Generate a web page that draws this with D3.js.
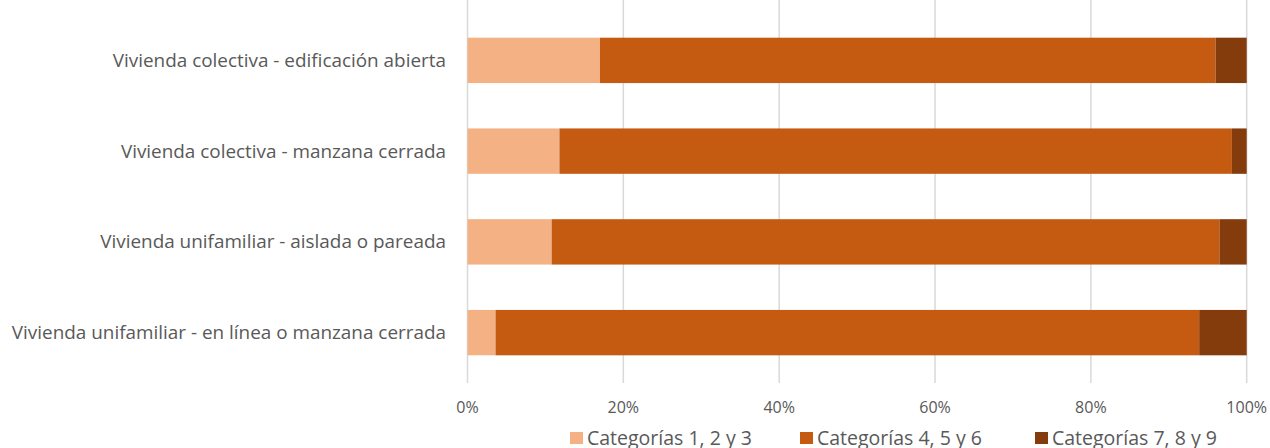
<!DOCTYPE html>
<html><head><meta charset="utf-8">
<script src="https://cdn.jsdelivr.net/npm/d3@7"></script>
<style>body{margin:0;background:#fff}svg{display:block}</style>
</head><body>
<svg id="c" width="1270" height="448"></svg>
<script>
const categories = [
  "Vivienda colectiva - edificación abierta",
  "Vivienda colectiva - manzana cerrada",
  "Vivienda unifamiliar - aislada o pareada",
  "Vivienda unifamiliar - en línea o manzana cerrada"
];
const seriesNames = ["Categorías 1, 2 y 3", "Categorías 4, 5 y 6", "Categorías 7, 8 y 9"];
const cat123 = [17.0, 11.8, 10.8, 3.6];
const cat456 = [79.0, 86.3, 85.7, 90.3];
const cat789 = [4.0, 1.9, 3.5, 6.1];
const tickValues = [0, 20, 40, 60, 80, 100];
const colors = ["#F4B183", "#C55A11", "#843C0C"];

const svg = d3.select("#c");
const x = d3.scaleLinear().domain([0, 100]).range([467.5, 1246.7]);
const y = d3.scaleBand().domain(categories).range([15, 378]).paddingInner(0.5).paddingOuter(0.25);

const rows = categories.map((c, i) => ({cat: c, s0: cat123[i], s1: cat456[i], s2: cat789[i]}));
const stack = d3.stack().keys(["s0", "s1", "s2"])(rows);

// gridlines
svg.append("g").selectAll("line").data(tickValues).join("line")
  .attr("x1", d => x(d)).attr("x2", d => x(d))
  .attr("y1", 0).attr("y2", 383)
  .attr("stroke", "#D9D9D9").attr("stroke-width", 1.5);

// bars
svg.append("g").selectAll("g").data(stack).join("g")
  .attr("fill", (d, i) => colors[i])
  .selectAll("rect").data(d => d).join("rect")
  .attr("x", d => x(d[0])).attr("width", d => x(d[1]) - x(d[0]))
  .attr("y", d => y(d.data.cat)).attr("height", y.bandwidth());

// category labels
svg.append("g").selectAll("text").data(categories).join("text")
  .attr("x", 446).attr("y", d => y(d) + y.bandwidth() / 2)
  .attr("dy", "0.35em").attr("text-anchor", "end")
  .attr("font-family", "'Open Sans', sans-serif").attr("font-size", 18.9)
  .attr("fill", "#595959").text(d => d);

// x axis tick labels
svg.append("g").selectAll("text").data(tickValues).join("text")
  .attr("x", d => x(d)).attr("y", 413)
  .attr("text-anchor", "middle")
  .attr("font-family", "'Open Sans', sans-serif").attr("font-size", 16)
  .attr("fill", "#595959").text(d => d + "%");

// legend
const legendX = [570, 800, 1035];
const lg = svg.append("g").selectAll("g").data(seriesNames).join("g")
  .attr("transform", (d, i) => `translate(${legendX[i]},0)`);
lg.append("rect").attr("x", 0).attr("y", 432).attr("width", 13).attr("height", 12)
  .attr("fill", (d, i) => colors[i]);
lg.append("text").attr("x", 17).attr("y", 445)
  .attr("font-family", "'Open Sans', sans-serif").attr("font-size", 19.5)
  .attr("fill", "#595959").text(d => d);
</script>
</body></html>
